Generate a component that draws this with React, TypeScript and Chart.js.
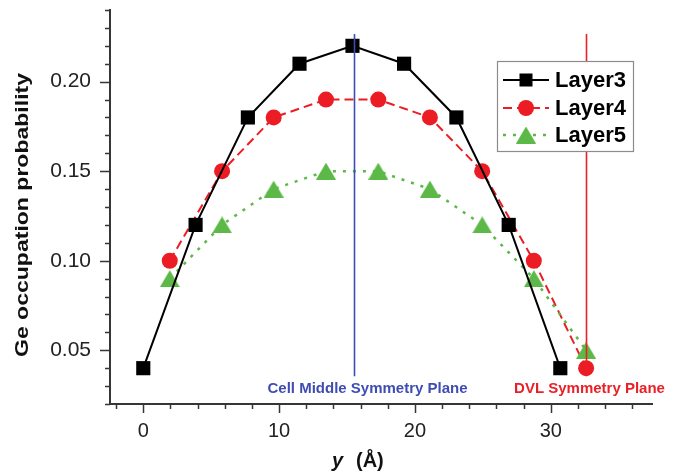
import { useEffect, useRef } from 'react';
import { Chart, registerables } from 'chart.js';

Chart.register(...registerables);

// Sampling positions along y (Å)
const layer3X = [0, 3.85, 7.7, 11.5, 15.4, 19.2, 23.05, 26.9, 30.7];
const layer45X = [1.95, 5.8, 9.6, 13.45, 17.3, 21.1, 24.95, 28.75, 32.6];

// Ge occupation probability per layer
const layer3Y = [0.04, 0.12, 0.18, 0.21, 0.22, 0.21, 0.18, 0.12, 0.04];
const layer4Y = [0.1, 0.15, 0.18, 0.19, 0.19, 0.18, 0.15, 0.1, 0.04];
const layer5Y = [0.09, 0.12, 0.14, 0.15, 0.15, 0.14, 0.12, 0.09, 0.05];

// Axis ticks
const xTickLabels = [0, 10, 20, 30];
const yTickLabels = [0.05, 0.1, 0.15, 0.2];
const xTickMarks = [-2, 0, 2, 4, 6, 8, 10, 12, 14, 16, 18, 20, 22, 24, 26, 28, 30, 32, 34, 36];
const yTickMarks = [0.02, 0.03, 0.04, 0.05, 0.06, 0.07, 0.08, 0.09, 0.1, 0.11, 0.12, 0.13, 0.14, 0.15, 0.16, 0.17, 0.18, 0.19, 0.2, 0.21, 0.22, 0.23, 0.24];

// Symmetry planes (x position in Å) and their vertical extent
const planeNames = ['Cell Middle Symmetry Plane', 'DVL Symmetry Plane'];
const planeX = [15.5, 32.6];
const planeExtent = [0.0355, 0.2266];

const FONT = '"Liberation Sans", Arial, Helvetica, sans-serif';
const AXIS_COLOR = '#363636';
const BLACK = '#000000';
const RED = '#ec1c24';
const GREEN = '#5cb847';

const planeStyle: Record<string, { color: string; dx: number }> = {
  'Cell Middle Symmetry Plane': { color: '#3f4db2', dx: 13 },
  'DVL Symmetry Plane': { color: '#ea2027', dx: 3 },
};

function triangleSprite(color: string, w: number, h: number) {
  const c = document.createElement('canvas');
  c.width = w;
  c.height = h;
  const g = c.getContext('2d')!;
  g.fillStyle = color;
  g.beginPath();
  g.moveTo(w / 2, 0);
  g.lineTo(w, h);
  g.lineTo(0, h);
  g.closePath();
  g.fill();
  return c;
}

const near = (a: number, list: number[]) => list.some((v) => Math.abs(v - a) < 1e-6);

const decorations = {
  id: 'decorations',
  afterDatasetsDraw(chart: any) {
    const { ctx, scales, chartArea } = chart;
    const x = scales.x;
    const y = scales.y;
    ctx.save();
    planeNames.forEach((name, i) => {
      const st = planeStyle[name];
      const px = Math.round(x.getPixelForValue(planeX[i])) + 0.5;
      ctx.strokeStyle = st.color;
      ctx.lineWidth = 1.6;
      ctx.beginPath();
      ctx.moveTo(px, y.getPixelForValue(planeExtent[1]));
      ctx.lineTo(px, y.getPixelForValue(planeExtent[0]));
      ctx.stroke();
      ctx.fillStyle = st.color;
      ctx.font = `bold 15px ${FONT}`;
      ctx.textAlign = 'center';
      ctx.textBaseline = 'middle';
      ctx.fillText(name, px + st.dx, chartArea.bottom - 15);
    });
    ctx.restore();
  },
  afterDraw(chart: any) {
    const { ctx, scales, chartArea } = chart;
    const x = scales.x;
    const y = scales.y;
    ctx.save();

    // tick marks (major and minor), drawn outside the plot
    ctx.strokeStyle = AXIS_COLOR;
    ctx.lineWidth = 1.5;
    ctx.beginPath();
    xTickMarks.forEach((v) => {
      const px = Math.round(x.getPixelForValue(v)) + 0.5;
      const len = near(v, xTickLabels) ? 9 : 5;
      ctx.moveTo(px, chartArea.bottom);
      ctx.lineTo(px, chartArea.bottom + len);
    });
    yTickMarks.forEach((v) => {
      const py = Math.round(y.getPixelForValue(v)) + 0.5;
      const len = near(v, yTickLabels) ? 10 : 5;
      ctx.moveTo(chartArea.left, py);
      ctx.lineTo(chartArea.left - len, py);
    });
    ctx.stroke();

    // y axis title
    const yTitle = 'Ge occupation probability';
    ctx.save();
    ctx.translate(28, 215);
    ctx.rotate(-Math.PI / 2);
    ctx.font = `bold 19px ${FONT}`;
    const tw = ctx.measureText(yTitle).width;
    ctx.scale(284 / tw, 1);
    ctx.fillStyle = '#111';
    ctx.textAlign = 'center';
    ctx.textBaseline = 'alphabetic';
    ctx.fillText(yTitle, 0, 0);
    ctx.restore();

    // x axis title
    ctx.fillStyle = '#111';
    ctx.textAlign = 'left';
    ctx.textBaseline = 'alphabetic';
    ctx.font = `italic bold 20px ${FONT}`;
    ctx.fillText('y', 332, 467);
    ctx.font = `bold 20px ${FONT}`;
    ctx.fillText('(Å)', 356, 467);

    // legend
    const bx = 497.5;
    const by = 61.5;
    const bw = 136;
    const bh = 90;
    ctx.fillStyle = '#ffffff';
    ctx.fillRect(bx, by, bw, bh);
    ctx.strokeStyle = '#8c8c8c';
    ctx.lineWidth = 1.2;
    ctx.strokeRect(bx, by, bw, bh);
    const rows = [80, 108, 135];
    chart.data.datasets.forEach((ds: any, i: number) => {
      const ry = rows[i];
      ctx.save();
      ctx.strokeStyle = ds.borderColor;
      ctx.lineWidth = ds.borderWidth;
      ctx.setLineDash(ds.borderDash || []);
      ctx.beginPath();
      ctx.moveTo(503, ry);
      ctx.lineTo(549, ry);
      ctx.stroke();
      ctx.restore();
      ctx.fillStyle = ds.pointBackgroundColor;
      const mx = 526;
      if (ds.pointStyle === 'rect') {
        ctx.fillRect(mx - 6.5, ry - 6.5, 13, 13);
      } else if (ds.pointStyle === 'circle') {
        ctx.beginPath();
        ctx.arc(mx, ry, 8, 0, Math.PI * 2);
        ctx.fill();
      } else {
        const img = ds.pointStyle as HTMLCanvasElement;
        ctx.drawImage(img, mx - img.width / 2, ry - img.height / 2);
      }
      ctx.fillStyle = '#000';
      ctx.font = `bold 22px ${FONT}`;
      ctx.textAlign = 'left';
      ctx.textBaseline = 'middle';
      ctx.fillText(ds.label, 555, ry + 1);
    });

    ctx.restore();
  },
};

export default function App() {
  const canvasRef = useRef<HTMLCanvasElement | null>(null);

  useEffect(() => {
    const canvas = canvasRef.current;
    if (!canvas) return;
    const tri = triangleSprite(GREEN, 20, 17);

    const chart = new Chart(canvas, {
      type: 'line',
      data: {
        datasets: [
          {
            label: 'Layer3',
            data: layer3X.map((x, i) => ({ x, y: layer3Y[i] })),
            borderColor: BLACK,
            backgroundColor: BLACK,
            pointBackgroundColor: BLACK,
            borderWidth: 2,
            pointStyle: 'rect',
            pointRadius: 10,
            pointBorderWidth: 0,
            order: 1,
          },
          {
            label: 'Layer4',
            data: layer45X.map((x, i) => ({ x, y: layer4Y[i] })),
            borderColor: RED,
            backgroundColor: RED,
            pointBackgroundColor: RED,
            borderWidth: 2,
            borderDash: [9, 5],
            pointStyle: 'circle',
            pointRadius: 8,
            pointBorderWidth: 0,
            order: 3,
          },
          {
            label: 'Layer5',
            data: layer45X.map((x, i) => ({ x, y: layer5Y[i] })),
            borderColor: GREEN,
            backgroundColor: GREEN,
            pointBackgroundColor: GREEN,
            borderWidth: 2.5,
            borderDash: [3, 7],
            pointStyle: tri,
            pointRadius: 10,
            pointBorderWidth: 0,
            order: 2,
          },
        ] as any,
      },
      options: {
        responsive: false,
        animation: false,
        clip: false as any,
        layout: { padding: { left: 0, top: 4, right: 30, bottom: 0 } },
        plugins: {
          legend: { display: false },
          tooltip: { enabled: false },
        },
        elements: { line: { tension: 0 } },
        scales: {
          x: {
            type: 'linear',
            min: -2.45,
            max: 37.45,
            afterBuildTicks: (s: any) => {
              s.ticks = xTickLabels.map((v) => ({ value: v }));
            },
            afterFit: (s: any) => {
              s.height = 72;
              s.paddingLeft = 0;
              s.paddingRight = 0;
            },
            grid: { display: true, drawOnChartArea: false, drawTicks: false },
            border: { display: true, color: AXIS_COLOR, width: 2 },
            ticks: {
              padding: 15,
              color: '#222',
              font: { family: FONT, size: 20 },
              maxRotation: 0,
              autoSkip: false,
              callback: (v: any) => String(v),
            },
          },
          y: {
            type: 'linear',
            min: 0.02,
            max: 0.24,
            afterBuildTicks: (s: any) => {
              s.ticks = yTickLabels.map((v) => ({ value: v }));
            },
            afterFit: (s: any) => {
              s.width = 110;
              s.paddingTop = 0;
              s.paddingBottom = 0;
            },
            grid: { display: true, drawOnChartArea: false, drawTicks: false },
            border: { display: true, color: AXIS_COLOR, width: 2 },
            ticks: {
              padding: 19,
              color: '#222',
              font: { family: FONT, size: 21 },
              autoSkip: false,
              callback: (v: any) => Number(v).toFixed(2),
            },
          },
        },
      } as any,
      plugins: [decorations],
    });

    return () => chart.destroy();
  }, []);

  return (
    <div style={{ position: 'absolute', left: 0, top: 0, width: 682, height: 476, background: '#fff' }}>
      <canvas ref={canvasRef} width={682} height={476} style={{ display: 'block' }} />
    </div>
  );
}
